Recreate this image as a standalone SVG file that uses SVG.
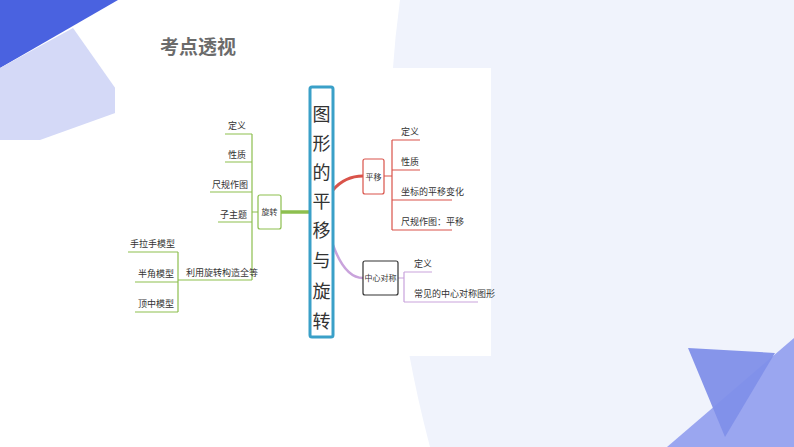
<svg xmlns="http://www.w3.org/2000/svg" width="794" height="447" viewBox="0 0 794 447">
<style>
text{font-family:"Noto Sans CJK SC","Noto Sans",sans-serif;fill:#333;font-size:9px}
text.big{font-size:18px}
text.sm{font-size:8px}
text.title{font-size:19px;font-weight:bold;fill:#6b6b6b}
.g{stroke:#8dbf4f;fill:none;stroke-width:1.2}
.r{stroke:#d9534a;fill:none;stroke-width:1.2}
.p{stroke:#c9a3dc;fill:none;stroke-width:1.2}
</style>
<rect width="794" height="447" fill="#fff"/>
<path d="M400 0 H794 V447 H430 Q370 220 400 0 Z" fill="#f0f3fc"/>
<polygon points="0,0 118,0 0,68" fill="#4a62e0"/>
<polygon points="0,68 73,28 118,92 118,112 40,140 0,140" fill="#d4d9f7"/>
<polygon points="667,447 794,338 794,447" fill="#9aa6f0"/>
<polygon points="688,348 775,353 725,437" fill="#7f8fe9" opacity="0.95"/>
<text class="title" x="160" y="54">考点透视</text>
<rect x="115" y="68" width="376" height="288" fill="#fff"/>
<g id="connectors">
<path d="M281 212 H310" stroke="#8dbf4f" stroke-width="3.5" fill="none"/>
<path class="g" d="M252 212 H258 M252 134 V280 M225 134 H252 M225 162 H252 M210 192 H252 M218 222 H252 M178 280 H252 M178 252 V312 M128 252 H178 M135 282 H178 M135 312 H178"/>
<path d="M333 190 Q345 176 363 176" stroke="#d9534a" stroke-width="3" fill="none"/>
<path class="r" d="M384 176 H392 M392 140 V230 M392 140 H420 M392 170 H420 M392 200 H452 M392 230 H452"/>
<path d="M333 245 Q345 278 363 278" stroke="#c9a3dc" stroke-width="2.5" fill="none"/>
<path class="p" d="M398 278 H404 M404 272 V302 M404 272 H432 M404 302 H478"/>
</g>
<g id="root"><rect x="310" y="87" width="23" height="250" rx="2" fill="#fff" stroke="#3aa0c8" stroke-width="3"/>
<g text-anchor="middle">
<text class="big" x="321.5" y="121">图</text><text class="big" x="321.5" y="150">形</text><text class="big" x="321.5" y="179">的</text><text class="big" x="321.5" y="208">平</text><text class="big" x="321.5" y="237">移</text><text class="big" x="321.5" y="267">与</text><text class="big" x="321.5" y="298">旋</text><text class="big" x="321.5" y="328">转</text></g></g>
<g id="xuanzhuan"><rect x="258" y="195" width="23" height="34" rx="2" fill="#fff" stroke="#8dbf4f" stroke-width="1.2"/><text class="sm" x="269.5" y="215" text-anchor="middle">旋转</text></g>
<g id="g-items">
<text x="228" y="129">定义</text><text x="228" y="158">性质</text><text x="212" y="188">尺规作图</text><text x="220" y="218">子主题</text><text x="186" y="276">利用旋转构造全等</text>
<text x="130" y="247">手拉手模型</text><text x="138" y="277">半角模型</text><text x="138" y="307">顶中模型</text></g>
<g id="pingyi"><rect x="363" y="159" width="21" height="35" rx="2" fill="#fff" stroke="#d9534a" stroke-width="1.2"/><text class="sm" x="373.5" y="180" text-anchor="middle">平移</text></g>
<g id="r-items"><text x="401" y="135">定义</text><text x="401" y="165">性质</text><text x="401" y="195">坐标的平移变化</text><text x="401" y="225">尺规作图：平移</text></g>
<g id="zhongxin"><rect x="363" y="261" width="35" height="34" rx="2" fill="#fff" stroke="#333" stroke-width="1.2"/><text class="sm" x="380.5" y="281" text-anchor="middle">中心对称</text></g>
<g id="p-items"><text x="414" y="267">定义</text><text x="414" y="297">常见的中心对称图形</text></g>
</svg>
